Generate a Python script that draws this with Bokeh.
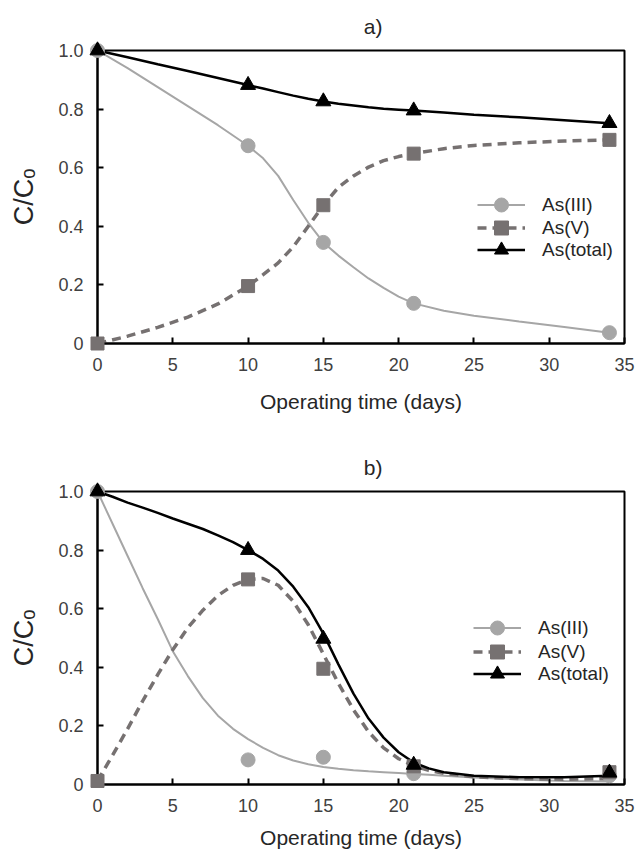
from bokeh.plotting import figure
from bokeh.models import Range1d, FixedTicker, Legend, LegendItem
from bokeh.core.properties import value
from bokeh.layouts import column
from bokeh.embed import file_html
from bokeh.resources import INLINE

# ---------------- data ----------------
days = [0, 10, 15, 21, 34]

# panel a) measured points
a_as3 = [1.0, 0.675, 0.345, 0.137, 0.037]
a_as5 = [0.0, 0.196, 0.472, 0.648, 0.695]
a_tot = [1.0, 0.882, 0.826, 0.795, 0.752]

# panel a) drawn curves (read off the picture)
a_curve_days = [0, 2, 4, 6, 8, 10, 11, 12, 13, 14, 15, 16, 17, 18, 19, 20, 21, 23, 25, 28, 31, 34]
a_as3_curve = [1.0, 0.94, 0.875, 0.81, 0.745, 0.675, 0.632, 0.572, 0.49, 0.412, 0.345, 0.3, 0.26,
               0.222, 0.19, 0.16, 0.137, 0.112, 0.095, 0.075, 0.056, 0.037]
a_as5_curve = [0.0, 0.025, 0.055, 0.09, 0.135, 0.196, 0.235, 0.275, 0.33, 0.4, 0.472, 0.533, 0.572,
               0.602, 0.624, 0.638, 0.648, 0.665, 0.676, 0.685, 0.691, 0.695]
a_tot_curve = [1.0, 0.977, 0.953, 0.93, 0.906, 0.882, 0.87, 0.858, 0.846, 0.835, 0.826, 0.818, 0.812,
               0.806, 0.801, 0.798, 0.795, 0.788, 0.781, 0.772, 0.762, 0.752]

# panel b) measured points
b_as3 = [1.0, 0.084, 0.093, 0.037, 0.03]
b_as5 = [0.012, 0.70, 0.395, 0.062, 0.042]
b_tot = [1.0, 0.80, 0.497, 0.067, 0.040]

# panel b) drawn curves (read off the picture)
b_curve_days = [0, 1, 2, 3, 4, 5, 6, 7, 8, 9, 10, 11, 12, 13, 14, 15, 16, 17, 18, 19, 20, 21, 22, 23,
                25, 28, 31, 34]
b_as3_curve = [1.0, 0.89, 0.78, 0.67, 0.565, 0.455, 0.37, 0.295, 0.235, 0.19, 0.155, 0.125, 0.1,
               0.082, 0.069, 0.06, 0.054, 0.049, 0.045, 0.042, 0.039, 0.036, 0.033, 0.03, 0.024,
               0.017, 0.012, 0.01]
b_as5_curve = [0.012, 0.1, 0.19, 0.285, 0.375, 0.46, 0.535, 0.595, 0.645, 0.68, 0.70, 0.703, 0.68,
               0.625, 0.545, 0.445, 0.345, 0.255, 0.18, 0.125, 0.088, 0.064, 0.048, 0.038, 0.026,
               0.02, 0.018, 0.02]
b_tot_curve = [1.0, 0.982, 0.962, 0.945, 0.927, 0.908, 0.89, 0.872, 0.85, 0.827, 0.80, 0.77, 0.73,
               0.675, 0.605, 0.515, 0.41, 0.31, 0.225, 0.16, 0.11, 0.075, 0.055, 0.042, 0.03,
               0.025, 0.025, 0.03]

labels = ["As(III)", "As(V)", "As(total)"]
x_title = "Operating time (days)"
y_title = "C/C\u2092"
x_ticks = [0, 5, 10, 15, 20, 25, 30, 35]
y_ticks = [0, 0.2, 0.4, 0.6, 0.8, 1.0]
y_tick_labels = {0: "0", 0.2: "0.2", 0.4: "0.4", 0.6: "0.6", 0.8: "0.8", 1.0: "1.0"}

# ---------------- styling ----------------
FONT = "Liberation Sans"
C3 = "#a6a6a6"
C5 = "#767171"
CT = "#000000"
TXT = "#262626"
FRAME_H = 293          # frame height in px
X0, X1, Y0, Y1 = 0, 35, 0, 1
WIDTH = 636


def make(title, cd, c3, c5, ct, p3, p5, pt, height, top, bottom, leg_x, leg_ys, xlab_axis):
    p = figure(width=WIDTH, height=height, x_range=Range1d(X0, X1), y_range=Range1d(Y0, Y1),
               output_backend="svg", toolbar_location=None,
               min_border_left=97, min_border_right=12, min_border_top=top,
               min_border_bottom=bottom, background_fill_color="white",
               border_fill_color="white")
    p.xgrid.visible = False
    p.ygrid.visible = False
    p.outline_line_color = "black"
    p.outline_line_width = 2
    p.outline_line_alpha = 1

    px = (Y1 - Y0) / FRAME_H   # data units per pixel (vertical)
    # panel title "a)" / "b)" above the frame, slightly right of centre
    p.text(x=[X0 + (X1 - X0) * 0.523], y=[Y1 + 24 * px], text=[title], text_align="center",
           text_baseline="middle", text_font=value(FONT), text_font_size="21px",
           text_color=TXT, level="overlay")

    for ax in (p.xaxis[0], p.yaxis[0]):
        ax.axis_line_width = 2
        ax.axis_line_color = "black"
        ax.major_tick_in = 6
        ax.major_tick_out = 0
        ax.major_tick_line_width = 2
        ax.minor_tick_line_color = None
        ax.major_label_text_font = FONT
        ax.major_label_text_font_size = "18px"
        ax.major_label_text_color = "#404040"
        ax.axis_label_text_font = FONT
        ax.axis_label_text_font_style = "normal"
        ax.axis_label_text_color = TXT

    p.xaxis.ticker = FixedTicker(ticks=x_ticks)
    p.yaxis.ticker = FixedTicker(ticks=y_ticks)
    p.yaxis.major_label_overrides = y_tick_labels
    p.xaxis.major_label_standoff = 14
    p.yaxis.major_label_standoff = 14
    if xlab_axis:
        p.xaxis.axis_label = x_title
        p.xaxis.axis_label_text_font_size = "21px"
        p.xaxis.axis_label_standoff = 16
    else:
        p.text(x=[(X0 + X1) / 2], y=[Y0 - 53 * px], text=[x_title], text_align="center",
               text_baseline="middle", text_font=value(FONT), text_font_size="21px",
               text_color=TXT, level="overlay")
    p.yaxis.axis_label = y_title
    p.yaxis.axis_label_text_font_size = "27px"
    p.yaxis.axis_label_standoff = 16

    l3 = p.line(cd, c3, line_color=C3, line_width=2)
    l5 = p.line(cd, c5, line_color=C5, line_width=3.5, line_dash="9 6")
    lt = p.line(cd, ct, line_color=CT, line_width=2.5)
    m3 = p.scatter(days, p3, marker="circle", size=14, fill_color=C3, line_color=C3, level="overlay")
    m5 = p.scatter(days, p5, marker="square", size=13, fill_color=C5, line_color=C5, level="overlay")
    mt = p.scatter(days, pt, marker="triangle", size=15, fill_color=CT, line_color=CT, level="overlay")

    for lab, rs, vy in zip(labels, [[l3, m3], [l5, m5], [lt, mt]], leg_ys):
        legend = Legend(items=[LegendItem(label=lab, renderers=rs)],
                        location=(leg_x, vy), orientation="vertical",
                        glyph_width=48, glyph_height=35, spacing=0, padding=0, margin=0,
                        label_standoff=17, label_height=20,
                        label_text_font=FONT, label_text_font_size="19px",
                        label_text_color=TXT, border_line_alpha=0,
                        background_fill_alpha=0)
        p.add_layout(legend)
    return p


p1 = make("a)", a_curve_days, a_as3_curve, a_as5_curve, a_tot_curve, a_as3, a_as5, a_tot,
          height=449, top=50, bottom=106, leg_x=380, leg_ys=(121, 98, 76), xlab_axis=True)
p2 = make("b)", b_curve_days, b_as3_curve, b_as5_curve, b_tot_curve, b_as3, b_as5, b_tot,
          height=400, top=42, bottom=65, leg_x=376, leg_ys=(139, 115, 93), xlab_axis=False)

layout = column(p1, p2, spacing=0)
open("out.html", "w").write(file_html(layout, INLINE))
